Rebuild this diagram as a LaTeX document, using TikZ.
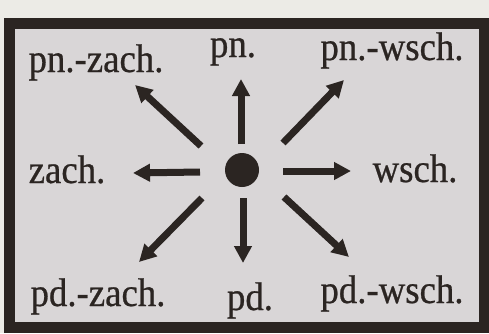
\documentclass[tikz,border=0pt]{standalone}
\usepackage{fontspec}
\setmainfont{Liberation Serif}[FakeStretch=0.92,FakeBold=0.6]
\usetikzlibrary{arrows.meta}
\definecolor{compassInk}{HTML}{2B2522}
\definecolor{compassPaper}{HTML}{ECEBE6}
\definecolor{compassPanel}{HTML}{D9D6D7}
\tikzset{
  compass diagram/.style={
    x=1pt, y=-1pt,
    >={Triangle[length=17pt,width=17pt]},
    every node/.style={font=\fontsize{40}{42}\selectfont,
      text=compassInk, inner sep=0pt, outer sep=0pt}
  },
  compass frame/.style={draw=compassInk, line width=11pt, fill=compassPanel},
  compass arrow/.style={->, draw=compassInk, line width=7pt},
  compass label/.style={anchor=base}
}

\begin{document}
\begin{tikzpicture}[compass diagram]
    \fill[compassPaper] (0,0) rectangle (489,333);
    \useasboundingbox (0,0) rectangle (489,333);
    \draw[compass frame] (9,23) rectangle (484,327);
    \node[circle, fill=compassInk, minimum size=34pt] (dot) at (242,170) {};
    % directions
    \node[compass label] (nw) at (96,72) {pn.-zach.};
    \node[compass label] (n) at (233,57) {pn.};
    \node[compass label] (ne) at (392,60) {pn.-wsch.};
    \node[compass label] (w) at (67,183) {zach.};
    \node[compass label] (e) at (415,182) {wsch.};
    \node[compass label] (sw) at (98,306) {pd.-zach.};
    \node[compass label] (s) at (250,310) {pd.};
    \node[compass label] (se) at (392,303) {pd.-wsch.};
    % arrows
    \foreach \dir/\tx/\ty/\hx/\hy in {n/241/144/241/79, e/283/171/351/171,
        s/243/198/243/263, w/200/172/133/173, ne/283/143/344/80,
        nw/201/146/135/85, sw/202/198/139/262, se/284/197/349/257}{
      \coordinate (\dir-tail) at (\tx,\ty);
      \coordinate (\dir-tip) at (\hx,\hy);
      \draw[compass arrow] (\dir-tail) -- (\dir-tip);
    }
  \end{tikzpicture}
\end{document}
